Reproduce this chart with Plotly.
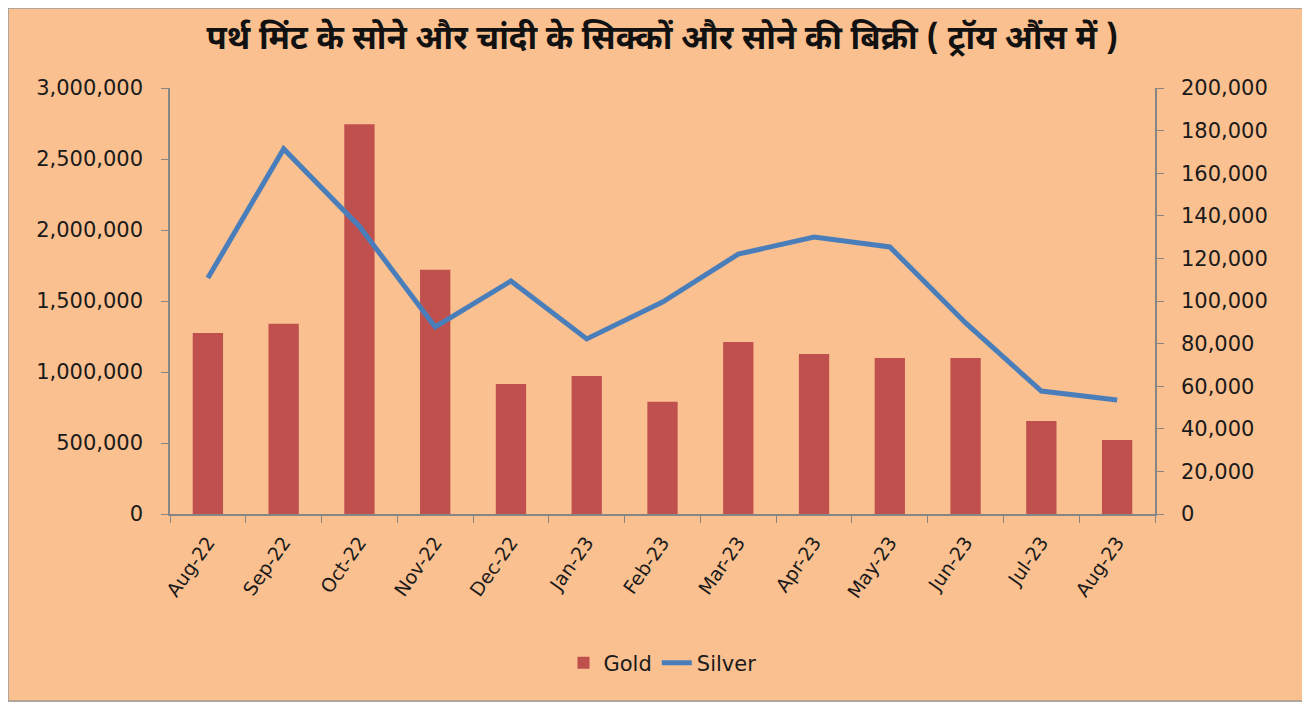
import plotly.graph_objects as go

months = ["Aug-22", "Sep-22", "Oct-22", "Nov-22", "Dec-22", "Jan-23", "Feb-23",
          "Mar-23", "Apr-23", "May-23", "Jun-23", "Jul-23", "Aug-23"]
gold = [1275000, 1340000, 2745000, 1720000, 915000, 972000, 790000,
        1211000, 1127000, 1099000, 1099000, 655000, 521000]
silver = [110800, 171400, 135000, 87800, 109400, 82200, 99500,
          122000, 130000, 125400, 89700, 57700, 53500]
left_ticks = [0, 500000, 1000000, 1500000, 2000000, 2500000, 3000000]
right_ticks = [0, 20000, 40000, 60000, 80000, 100000, 120000, 140000, 160000, 180000, 200000]
title_text = "पर्थ मिंट के सोने और चांदी के सिक्कों और सोने की बिक्री ( ट्रॉय औंस में )"

# page has an 8px body margin; figure starts at (8, 8)
OFF = 8
W, H = 1296, 694
L, T = 170 - OFF, 88 - OFF
R = W - (1155 - OFF)
B = H - (514 - OFF)
ph = H - T - B
pw = W - L - R

def py(p):
    # page pixel y -> paper coordinate
    return (H - B - (p - OFF)) / ph

bg = "#FAC090"
tick_font = dict(family="DejaVu Sans", size=21, color="#1a1a1a")

fig = go.Figure()
fig.add_trace(go.Bar(x=months, y=gold, name="Gold", marker=dict(color="#C0504D", line=dict(width=0)),
                     yaxis="y"))
fig.add_trace(go.Scatter(x=months, y=silver, name="Silver", mode="lines",
                         line=dict(color="#4A7EBB", width=5), yaxis="y2"))

fig.update_layout(
    width=W, height=H,
    margin=dict(l=L, r=R, t=T, b=B, autoexpand=False),
    paper_bgcolor=bg,
    plot_bgcolor=bg,
    bargap=0.6,
    title=dict(text=f"<b>{title_text}</b>", x=0.5, xref="paper", xanchor="center",
               y=1 - (37 - OFF) / H, yref="container", yanchor="middle",
               font=dict(family="Noto Sans Devanagari, Noto Sans, sans-serif", size=33, color="#111")),
    xaxis=dict(showline=True, linecolor="#868686", linewidth=1.5, ticks="outside",
               ticklen=7, tickcolor="#868686", tickson="boundaries", tickangle=-55,
               tickfont=dict(family="DejaVu Sans", size=19, color="#1a1a1a"),
               ticklabelstandoff=8,
               showgrid=False, zeroline=False),
    yaxis=dict(range=[0, 3000000], tickvals=left_ticks, tickformat=",d",
               showline=True, linecolor="#868686", linewidth=1.5, ticks="outside",
               ticklen=7, tickcolor="#868686", showgrid=False, zeroline=False,
               ticklabelstandoff=14, tickfont=tick_font),
    yaxis2=dict(range=[0, 200000], tickvals=right_ticks, tickformat=",d", overlaying="y",
                side="right", showline=True, linecolor="#868686", linewidth=1.5,
                ticks="outside", ticklen=7, tickcolor="#868686", showgrid=False,
                zeroline=False, ticklabelstandoff=13, tickfont=tick_font),
    legend=dict(orientation="h", x=0.5, xanchor="center", y=py(663), yanchor="middle",
                font=dict(family="DejaVu Sans", size=21, color="#1a1a1a"),
                bgcolor="rgba(0,0,0,0)"),
    showlegend=True,
    shapes=[dict(type="rect", xref="paper", yref="paper", layer="below",
                 x0=-L / pw, x1=(pw + R - 1) / pw, y0=-(B - 1) / ph, y1=(ph + T) / ph,
                 fillcolor="rgba(0,0,0,0)", line=dict(color="#9a9a9a", width=1.5))],
)

fig.write_html("out.html")
